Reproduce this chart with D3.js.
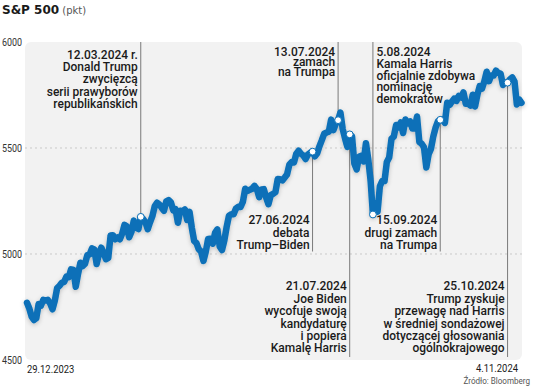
<!DOCTYPE html>
<html>
<head>
<meta charset="utf-8">
<script src="https://cdn.jsdelivr.net/npm/d3@7"></script>
<style>
  body { margin: 0; background: #fff; }
  svg { display: block; }
  .note { font-family: Roboto, 'Liberation Sans', sans-serif; font-size: 13.3px; font-weight: 500; fill: #1a1a1a; }
  .tick-label { font-family: Roboto, 'Liberation Sans', sans-serif; font-size: 10.5px; fill: #333; }
</style>
</head>
<body>
<div id="chart"></div>
<script>
// S&P 500 daily closes, [day, close] per month
const dec2023 = [[29, 4769.83]];
const jan2024 = [[2, 4742.83], [3, 4704.81], [4, 4688.68], [5, 4697.24], [8, 4763.54], [9, 4756.50], [10, 4783.45], [11, 4780.24], [12, 4783.83], [16, 4765.98], [17, 4739.21], [18, 4780.94], [19, 4839.81], [22, 4850.43], [23, 4864.60], [24, 4868.55], [25, 4894.16], [26, 4890.97], [29, 4927.93], [30, 4924.97], [31, 4845.65]];
const feb2024 = [[1, 4906.19], [2, 4958.61], [5, 4942.81], [6, 4954.23], [7, 4995.06], [8, 4997.91], [9, 5026.61], [12, 5021.84], [13, 4953.17], [14, 5000.62], [15, 5029.73], [16, 5005.57], [20, 4975.51], [21, 4981.80], [22, 5087.03], [23, 5088.80], [26, 5069.53], [27, 5078.18], [28, 5069.76], [29, 5096.27]];
const mar2024 = [[1, 5137.08], [4, 5130.95], [5, 5078.65], [6, 5104.76], [7, 5157.36], [8, 5123.69], [11, 5117.94], [12, 5175.27], [13, 5165.31], [14, 5150.48], [15, 5117.09], [18, 5149.42], [19, 5178.51], [20, 5224.62], [21, 5241.53], [22, 5234.18], [25, 5218.19], [26, 5203.58], [27, 5248.49], [28, 5254.35]];
const apr2024 = [[1, 5243.77], [2, 5205.81], [3, 5211.49], [4, 5147.21], [5, 5204.34], [8, 5202.39], [9, 5209.91], [10, 5160.64], [11, 5199.06], [12, 5123.41], [15, 5061.82], [16, 5051.41], [17, 5022.21], [18, 5011.12], [19, 4967.23], [22, 5010.60], [23, 5070.55], [24, 5071.63], [25, 5048.42], [26, 5099.96], [29, 5116.17], [30, 5035.69]];
const may2024 = [[1, 5018.39], [2, 5064.20], [3, 5127.79], [6, 5180.74], [7, 5187.70], [8, 5187.67], [9, 5214.08], [10, 5222.68], [13, 5221.42], [14, 5246.68], [15, 5308.15], [16, 5297.10], [17, 5303.27], [20, 5308.13], [21, 5321.41], [22, 5307.01], [23, 5267.84], [24, 5304.72], [28, 5306.04], [29, 5266.95], [30, 5235.48], [31, 5277.51]];
const jun2024 = [[3, 5283.40], [4, 5291.34], [5, 5354.03], [6, 5352.96], [7, 5346.99], [10, 5360.79], [11, 5375.32], [12, 5421.03], [13, 5433.74], [14, 5431.60], [17, 5473.23], [18, 5487.03], [20, 5473.17], [21, 5464.62], [24, 5447.87], [25, 5469.30], [26, 5477.90], [27, 5482.87], [28, 5460.48]];
const jul2024 = [[1, 5475.09], [2, 5509.01], [3, 5537.02], [5, 5567.19], [8, 5572.85], [9, 5576.98], [10, 5633.91], [11, 5584.54], [12, 5615.35], [15, 5631.22], [16, 5667.20], [17, 5588.27], [18, 5544.59], [19, 5505.00], [22, 5564.41], [23, 5555.74], [24, 5427.13], [25, 5399.22], [26, 5459.10], [29, 5463.54], [30, 5436.44], [31, 5522.30]];
const aug2024 = [[1, 5446.68], [2, 5346.56], [5, 5186.33], [6, 5240.03], [7, 5199.50], [8, 5319.31], [9, 5344.16], [12, 5344.39], [13, 5434.43], [14, 5455.21], [15, 5543.22], [16, 5554.25], [19, 5608.25], [20, 5597.12], [21, 5620.85], [22, 5570.64], [23, 5634.61], [26, 5616.84], [27, 5625.80], [28, 5592.18], [29, 5591.96], [30, 5648.40]];
const sep2024 = [[3, 5528.93], [4, 5520.07], [5, 5503.41], [6, 5408.42], [9, 5471.05], [10, 5495.52], [11, 5554.13], [12, 5595.76], [13, 5626.02], [16, 5633.09], [17, 5634.58], [18, 5618.26], [19, 5713.64], [20, 5702.55], [23, 5718.57], [24, 5732.93], [25, 5722.26], [26, 5745.37], [27, 5738.17], [30, 5762.48]];
const oct2024 = [[1, 5708.75], [2, 5709.54], [3, 5699.94], [4, 5751.07], [7, 5695.94], [8, 5751.13], [9, 5792.04], [10, 5780.05], [11, 5815.03], [14, 5859.85], [15, 5815.26], [16, 5842.47], [17, 5841.47], [18, 5864.67], [21, 5853.98], [22, 5851.20], [23, 5797.42], [24, 5809.86], [25, 5808.12], [28, 5823.52], [29, 5832.92], [30, 5813.67], [31, 5705.45]];
const nov2024 = [[1, 5728.80], [4, 5712.69]];

const yTicks = [4500, 5000, 5500, 6000];
const gridValues = [5000, 5500];
const startLabel = '29.12.2023';
const endLabel = '4.11.2024';

// events: date, where the note sits (top / mid / bottom of the plot), text
const events = [
  { date: '2024-03-12', place: 'top', side: 'left', lines: ['12.03.2024 r.', 'Donald Trump', 'zwycięzcą', 'serii prawyborów', 'republikańskich'] },
  { date: '2024-06-27', place: 'mid', side: 'left', lines: ['27.06.2024', 'debata', 'Trump–Biden'] },
  { date: '2024-07-13', place: 'top', side: 'left', lines: ['13.07.2024', 'zamach', 'na Trumpa'] },
  { date: '2024-07-21', place: 'bottom', side: 'left', lines: ['21.07.2024', 'Joe Biden', 'wycofuje swoją', 'kandydaturę', 'i popiera', 'Kamalę Harris'] },
  { date: '2024-08-05', place: 'top', side: 'right', lines: ['5.08.2024', 'Kamala Harris', 'oficjalnie zdobywa', 'nominację', 'demokratów'] },
  { date: '2024-09-15', place: 'mid', side: 'left', lines: ['15.09.2024', 'drugi zamach', 'na Trumpa'] },
  { date: '2024-10-25', place: 'bottom', side: 'left', lines: ['25.10.2024', 'Trump zyskuje', 'przewagę nad Harris', 'w średniej sondażowej', 'dotyczącej głosowania', 'ogólnokrajowego'] },
];

const months = [
  ['2023-12', dec2023], ['2024-01', jan2024], ['2024-02', feb2024], ['2024-03', mar2024],
  ['2024-04', apr2024], ['2024-05', may2024], ['2024-06', jun2024], ['2024-07', jul2024],
  ['2024-08', aug2024], ['2024-09', sep2024], ['2024-10', oct2024], ['2024-11', nov2024],
];
const series = months.flatMap(([ym, rows]) =>
  rows.map(([d, close]) => ({ date: `${ym}-${String(d).padStart(2, '0')}`, close })));

const width = 536;
const height = 388;
const plot = { left: 25, right: 522, top: 42, bottom: 360 };

const svg = d3.select('#chart').append('svg')
  .attr('width', width)
  .attr('height', height);

const defs = svg.append('defs');
const shadow = defs.append('filter').attr('id', 'shadow')
  .attr('x', '-10%').attr('y', '-10%').attr('width', '120%').attr('height', '120%');
shadow.append('feDropShadow')
  .attr('dx', 0).attr('dy', 1.5).attr('stdDeviation', 2.2)
  .attr('flood-color', '#000').attr('flood-opacity', 0.22);

// text squeezed horizontally around its anchor x (condensed look)
function narrowText(parent, ax, cls, anchor = 'start', sx = 0.82) {
  return parent.append('g')
    .attr('transform', `translate(${ax},0) scale(${sx},1)`)
    .append('text')
    .attr('class', cls)
    .attr('text-anchor', anchor);
}

const x = d3.scalePoint()
  .domain(series.map(d => d.date))
  .range([27, 521.5]);

const y = d3.scaleLinear()
  .domain([4500, 6000])
  .range([plot.bottom, plot.top]);

// title
const title = svg.append('text').attr('x', 2).attr('y', 13.5);
title.append('tspan').text('S&P 500')
  .attr('font-family', 'DejaVu Sans').attr('font-weight', 'bold').attr('font-size', 12).attr('fill', '#1a1a1a');
title.append('tspan').text(' (pkt)')
  .attr('font-family', 'DejaVu Sans').attr('font-size', 10).attr('fill', '#555');

// plot background
svg.append('rect')
  .attr('x', plot.left).attr('y', plot.top)
  .attr('width', plot.right - plot.left).attr('height', plot.bottom - plot.top)
  .attr('rx', 6)
  .attr('fill', '#f2f2f2');

// gridlines
svg.append('g')
  .selectAll('line')
  .data(gridValues)
  .join('line')
  .attr('x1', plot.left).attr('x2', plot.right)
  .attr('y1', d => y(d)).attr('y2', d => y(d))
  .attr('stroke', '#c9c9c9')
  .attr('stroke-dasharray', '2,3');

// y labels
const yLabels = svg.append('g');
yTicks.forEach(v => {
  narrowText(yLabels, 2, 'tick-label', 'start', 0.85)
    .attr('y', y(v))
    .attr('dy', '0.35em')
    .text(v);
});

// event -> next trading day on or after it
function tradingDay(date) {
  return series.find(d => d.date >= date) || series[series.length - 1];
}
const marks = events.map(e => {
  const p = tradingDay(e.date);
  return { ...e, px: x(p.date), py: y(p.close) };
});

const lineEnd = { top: y(6000), mid: y(5000) - 2.5, bottom: y(4500) - 3 };
svg.append('g')
  .selectAll('line')
  .data(marks)
  .join('line')
  .attr('x1', d => d.px).attr('x2', d => d.px)
  .attr('y1', d => d.py)
  .attr('y2', d => lineEnd[d.place])
  .attr('stroke', '#7a7a7a')
  .attr('stroke-width', 1);

// notes
const noteLead = { '2024-03-12': 12.2, '2024-07-13': 10, '2024-08-05': 11.8 };
const notes = svg.append('g');
marks.forEach(m => {
  const lh = noteLead[m.date] || 12.4;
  const n = m.lines.length;
  let first;
  if (m.place === 'top') first = y(6000) + (m.date === '2024-03-12' ? 17 : 14);
  else if (m.place === 'mid') first = y(5000) - 5 - (n - 1) * lh;
  else first = y(4500) - 7.5 - (n - 1) * lh;
  const ax = m.side === 'left' ? m.px - 3 : m.px + 3.5;
  const t = narrowText(notes, ax, 'note', m.side === 'left' ? 'end' : 'start', 0.9);
  m.lines.forEach((s, i) => {
    t.append('tspan')
      .attr('x', 0)
      .attr('y', first + i * lh)
      .text(s);
  });
});

// line
const line = d3.line()
  .x(d => x(d.date))
  .y(d => y(d.close));

svg.append('path')
  .datum(series)
  .attr('d', line)
  .attr('fill', 'none')
  .attr('stroke', '#0a70b8')
  .attr('stroke-width', 6.5)
  .attr('stroke-linejoin', 'round')
  .attr('stroke-linecap', 'round')
  .attr('filter', 'url(#shadow)');

// dots
svg.append('g')
  .selectAll('circle')
  .data(marks)
  .join('circle')
  .attr('cx', d => d.px)
  .attr('cy', d => d.py)
  .attr('r', 3.4)
  .attr('fill', '#fff')
  .attr('stroke', '#0a70b8')
  .attr('stroke-width', 1);

// x labels + source
narrowText(svg, 27, 'note')
  .attr('style', 'font-size:11.5px;font-weight:400')
  .attr('y', 373)
  .text(startLabel);
narrowText(svg, 518, 'note', 'end')
  .attr('style', 'font-size:11.5px;font-weight:400')
  .attr('y', 372)
  .text(endLabel);
narrowText(svg, 530, 'tick-label', 'end', 0.85)
  .attr('style', 'font-size:9.5px;fill:#555')
  .attr('y', 384)
  .text('Źródło: Bloomberg');
</script>
</body>
</html>
